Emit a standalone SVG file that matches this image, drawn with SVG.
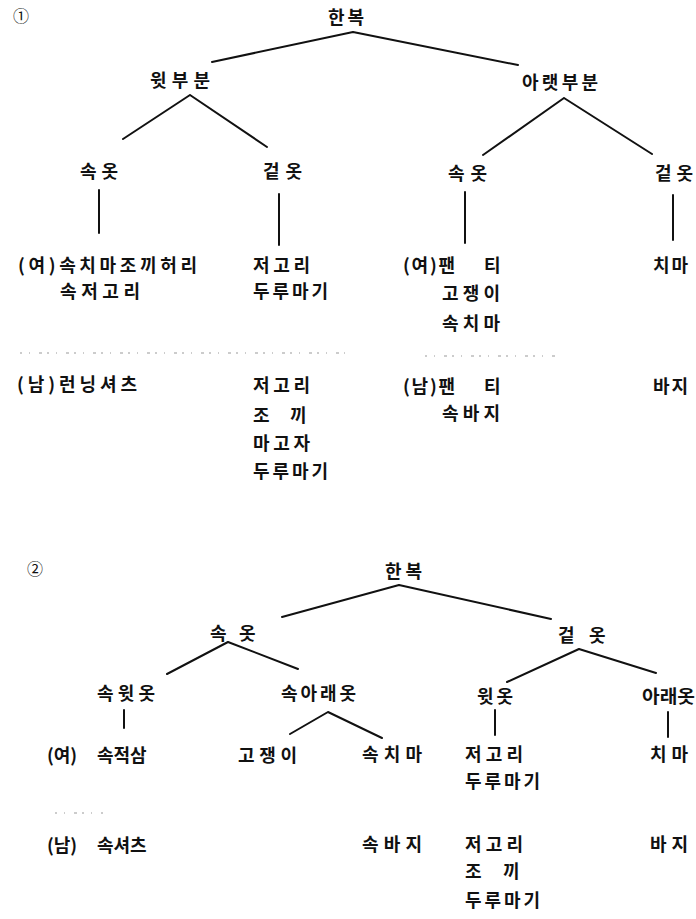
<svg xmlns="http://www.w3.org/2000/svg" width="696" height="919" viewBox="0 0 696 919">
<style>
text{font-family:"Noto Sans CJK KR","Noto Sans",sans-serif;font-weight:700;font-size:18px;fill:#111}
.lbl{font-size:16px;font-weight:400}
.ln{stroke:#111;stroke-width:2;fill:none;stroke-linecap:round}
.dot{stroke:#999;stroke-width:1;fill:none;stroke-dasharray:2 7 1 9 3 5}
</style>
<rect width="696" height="919" fill="#fff"/>
<g id="section1">
<text id="label1" class="lbl" x="13" y="22">①</text>
<g id="n1-hanbok"><text x="328" y="24" textLength="36" lengthAdjust="spacing">한복</text></g>
<g id="n1-upper"><text x="150" y="87" textLength="60" lengthAdjust="spacing">윗부분</text></g>
<g id="n1-lower"><text x="522" y="89" textLength="76" lengthAdjust="spacing">아랫부분</text></g>
<g id="n1-upper-inner"><text x="80" y="178" textLength="38" lengthAdjust="spacing">속옷</text></g>
<g id="n1-upper-outer"><text x="263" y="178" textLength="39" lengthAdjust="spacing">겉옷</text></g>
<g id="n1-lower-inner"><text x="448" y="180" textLength="39" lengthAdjust="spacing">속옷</text></g>
<g id="n1-lower-outer"><text x="655" y="180" textLength="38" lengthAdjust="spacing">겉옷</text></g>
<g id="n1-upper-inner-items">
<text x="18" y="272" textLength="179" lengthAdjust="spacing">(여)속치마조끼허리</text>
<text x="60" y="298" textLength="80" lengthAdjust="spacing">속저고리</text>
<text x="17" y="391" textLength="120" lengthAdjust="spacing">(남)런닝셔츠</text>
</g>
<g id="n1-upper-outer-items">
<text x="253" y="272" textLength="57" lengthAdjust="spacing">저고리</text>
<text x="253" y="298" textLength="75" lengthAdjust="spacing">두루마기</text>
<text x="253" y="392" textLength="57" lengthAdjust="spacing">저고리</text>
<text x="253" y="422">조 <tspan x="290">끼</tspan></text>
<text x="253" y="450" textLength="57" lengthAdjust="spacing">마고자</text>
<text x="253" y="478" textLength="75" lengthAdjust="spacing">두루마기</text>
</g>
<g id="n1-lower-inner-items">
<text x="403" y="272" textLength="52" lengthAdjust="spacing">(여)팬 </text><text x="484" y="272">티</text>
<text x="442" y="300" textLength="58" lengthAdjust="spacing">고쟁이</text>
<text x="442" y="330" textLength="58" lengthAdjust="spacing">속치마</text>
<text x="403" y="393" textLength="52" lengthAdjust="spacing">(남)팬 </text><text x="484" y="393">티</text>
<text x="442" y="420" textLength="58" lengthAdjust="spacing">속바지</text>
</g>
<g id="n1-lower-outer-items">
<text x="653" y="272" textLength="35" lengthAdjust="spacing">치마</text>
<text x="653" y="393" textLength="35" lengthAdjust="spacing">바지</text>
</g>
</g>
<g id="section2">
<text id="label2" class="lbl" x="27" y="575">②</text>
<g id="n2-hanbok"><text x="385" y="578" textLength="37" lengthAdjust="spacing">한복</text></g>
<g id="n2-inner"><text x="210" y="640">속 <tspan x="239">옷</tspan></text></g>
<g id="n2-outer"><text x="558" y="642">겉 <tspan x="589">옷</tspan></text></g>
<g id="n2-inner-upper"><text x="97" y="700" textLength="58" lengthAdjust="spacing">속윗옷</text></g>
<g id="n2-inner-lower"><text x="281" y="700" textLength="75" lengthAdjust="spacing">속아래옷</text></g>
<g id="n2-outer-upper"><text x="477" y="703" textLength="36" lengthAdjust="spacing">윗옷</text></g>
<g id="n2-outer-lower"><text x="642" y="703" textLength="53" lengthAdjust="spacingAndGlyphs">아래옷</text></g>
<g id="n2-inner-upper-items">
<text x="47" y="762">(여) <tspan x="97">속적삼</tspan></text>
<text x="47" y="852">(남) <tspan x="97">속셔츠</tspan></text>
</g>
<g id="n2-gojaengi"><text x="238" y="762" textLength="59" lengthAdjust="spacing">고쟁이</text></g>
<g id="n2-sokchima">
<text x="362" y="761" textLength="60" lengthAdjust="spacing">속치마</text>
<text x="362" y="851" textLength="60" lengthAdjust="spacing">속바지</text>
</g>
<g id="n2-outer-upper-items">
<text x="465" y="761" textLength="58" lengthAdjust="spacing">저고리</text>
<text x="465" y="788" textLength="75" lengthAdjust="spacing">두루마기</text>
<text x="465" y="851" textLength="58" lengthAdjust="spacing">저고리</text>
<text x="465" y="878">조 <tspan x="503">끼</tspan></text>
<text x="465" y="907" textLength="75" lengthAdjust="spacing">두루마기</text>
</g>
<g id="n2-outer-lower-items">
<text x="650" y="761" textLength="38" lengthAdjust="spacing">치마</text>
<text x="650" y="851" textLength="38" lengthAdjust="spacing">바지</text>
</g>
</g>
<g id="connectors">
<path class="ln" d="M353 32 L212 62 M353 32 L518 65"/>
<path class="ln" d="M190 95 L123 139 M190 95 L267 147"/>
<path class="ln" d="M564 98 L483 155 M564 98 L652 154"/>
<path class="ln" d="M99 190 V233 M279 194 V245 M465 192 V243 M673 195 V240"/>
<path class="ln" d="M399 585 L282 617 M399 585 L551 619"/>
<path class="ln" d="M228 642 L167 674 M228 642 L298 669"/>
<path class="ln" d="M579 649 L507 682 M579 649 L656 673"/>
<path class="ln" d="M124 710 V728 M495 710 V735 M668 712 V737"/>
<path class="ln" d="M328 712 L290 734 M328 712 L382 738"/>
</g>
<g id="separators">
<path class="dot" d="M20 353 H345"/>
<path class="dot" d="M425 356 H555"/>
<path class="dot" d="M55 813 H103"/>
</g>
</svg>
